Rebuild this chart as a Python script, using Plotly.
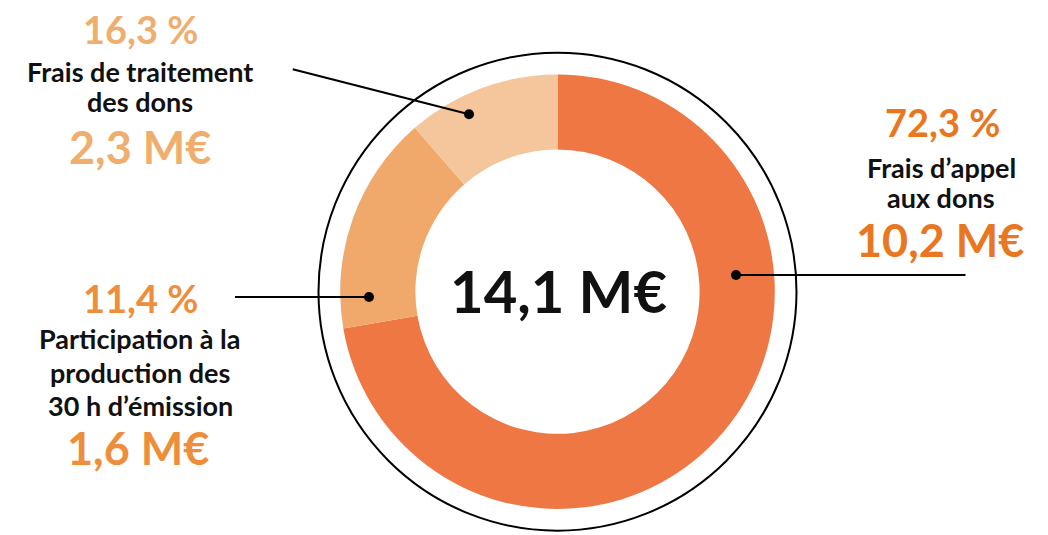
import plotly.graph_objects as go

# Data (slice shares as drawn, clockwise from 12 o'clock)
slice_names = ["Frais d'appel aux dons", "Participation à la production des 30 h d'émission", "Frais de traitement des dons"]
slice_values = [72.3, 16.3, 11.4]
slice_colors = ["#EE7743", "#F0A96A", "#F5C69C"]

total_label = "14,1 M€"

# Label texts
labels_right = ["72,3 %", "Frais d’appel", "aux dons", "10,2 M€"]
labels_top_left = ["16,3 %", "Frais de traitement", "des dons", "2,3 M€"]
labels_bottom_left = ["11,4 %", "Participation à la", "production des", "30 h d’émission", "1,6 M€"]

W, H = 1048, 535
cx, cy, r = 557.5, 291.7, 217.3

FONT = "Lato"

fig = go.Figure()
fig.add_trace(go.Pie(
    values=slice_values, labels=slice_names, marker=dict(colors=slice_colors, line=dict(width=0)),
    hole=0.654, sort=False, direction="clockwise", rotation=0, textinfo="none",
    hoverinfo="label+percent", showlegend=False,
    domain=dict(x=[(cx - r) / W, (cx + r) / W], y=[1 - (cy + r) / H, 1 - (cy - r) / H]),
))

# invisible pixel axes for decorations
fig.update_xaxes(range=[0, W], visible=False, fixedrange=True)
fig.update_yaxes(range=[H, 0], visible=False, fixedrange=True)
fig.add_trace(go.Scatter(x=[0], y=[0], mode="markers", marker=dict(opacity=0), hoverinfo="skip", showlegend=False))

shapes = []
R2 = 239
shapes.append(dict(type="circle", xref="x", yref="y", x0=cx - R2, x1=cx + R2, y0=cy - R2, y1=cy + R2,
                   line=dict(color="black", width=2), layer="above"))
leaders = [((292.7, 69.3), (469, 114.3)), ((235, 297), (369, 297)), ((965.5, 275), (736, 275))]
for (x0, y0), (x1, y1) in leaders:
    shapes.append(dict(type="line", xref="x", yref="y", x0=x0, y0=y0, x1=x1, y1=y1,
                       line=dict(color="black", width=2.2), layer="above"))
    rd = 5
    shapes.append(dict(type="circle", xref="x", yref="y", x0=x1 - rd, x1=x1 + rd, y0=y1 - rd, y1=y1 + rd,
                       fillcolor="black", line=dict(color="black", width=0), layer="above"))
fig.update_layout(shapes=shapes)

def ann(text, x, y, size, color, weight=700):
    fig.add_annotation(x=x, y=y, xref="x", yref="y", text=text, showarrow=False,
                       xanchor="center", yanchor="middle",
                       font=dict(family=FONT, size=size, color=color, weight=weight))

c_light, c_mid, c_dark = "#F0AE6E", "#EE8E3A", "#E8771F"
PCT, EUR, SMALL = 38, 45, 27

# top-left group
ann(labels_top_left[0], 140, 29, PCT, c_light)
ann(labels_top_left[1], 140, 71, SMALL, "#111111")
ann(labels_top_left[2], 140, 101, SMALL, "#111111")
ann(labels_top_left[3], 140, 147, EUR, c_light)

# bottom-left group
ann(labels_bottom_left[0], 140, 298, PCT, c_mid)
ann(labels_bottom_left[1], 140, 338, SMALL, "#111111")
ann(labels_bottom_left[2], 140, 372, SMALL, "#111111")
ann(labels_bottom_left[3], 140, 405, SMALL, "#111111")
ann(labels_bottom_left[4], 138, 448, EUR, c_mid)

# right group
ann(labels_right[0], 942, 122, PCT, c_dark)
ann(labels_right[1], 941, 167, SMALL, "#111111")
ann(labels_right[2], 941, 197, SMALL, "#111111")
ann(labels_right[3], 940, 240, EUR, c_dark)

# centre total
ann(total_label, 558, 290, 58, "#111111")

fig.update_layout(width=W, height=H, margin=dict(l=0, r=0, t=0, b=0),
                  paper_bgcolor="white", plot_bgcolor="white")

fig.write_html("out.html", config={"displayModeBar": False},
               post_script="document.body.style.margin='0';")
